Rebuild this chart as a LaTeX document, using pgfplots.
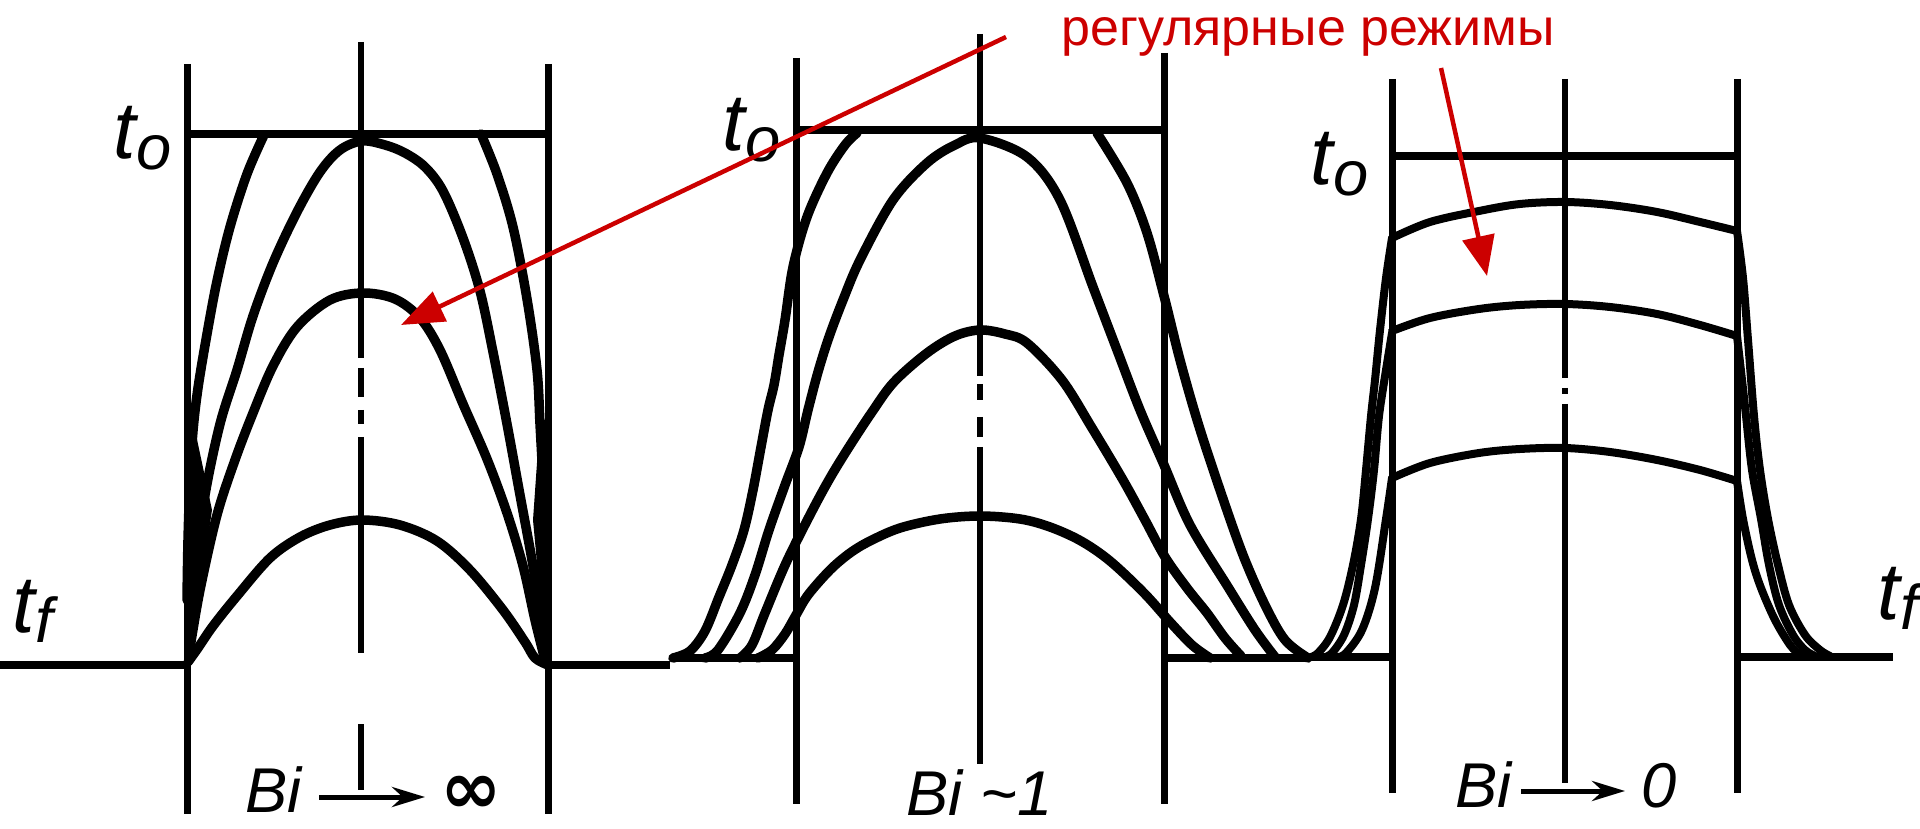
\documentclass[border=0pt]{standalone}
\usepackage{fontspec}
\setmainfont{Liberation Sans}
\newfontfamily\symfont{DejaVu Sans}
\usepackage{pgfplots}
\pgfplotsset{compat=1.18}
\usetikzlibrary{arrows.meta}
\definecolor{arrowred}{RGB}{204,0,0}

% profile and frame styles (1 unit = 0.1 mm)
\tikzset{
  profile/.style={black, line width=0.95mm, line cap=round, line join=round, smooth, tension=0.55},
  thinprofile/.style={black, line width=0.8mm, line cap=round, line join=round, smooth, tension=0.55},
  wall/.style={black, line width=0.7mm},
  level/.style={black, line width=0.75mm},
  axisline/.style={black, line width=0.55mm},
  wedge/.style={fill=black, draw=none},
}
\newcommand{\tlab}[2]{{\fontsize{23}{23}\selectfont\itshape #1}\raisebox{-1.1mm}{\fontsize{18}{18}\selectfont\itshape #2}}
\newcommand{\bilab}{\fontsize{18}{18}\selectfont\itshape}

\begin{document}
\begin{tikzpicture}
\begin{axis}[
  name=main,
  width=192mm, height=82.9mm, scale only axis,
  xmin=0, xmax=1920, ymin=0, ymax=829, y dir=reverse,
  hide axis, clip=false,
]
%% ---------------- Bi -> infinity ----------------
\addplot[wall] coordinates {(187,64) (187,814)};
\addplot[wall] coordinates {(548,64) (548,814)};
\addplot[level] coordinates {(187,134) (548,134)};
\addplot[level] coordinates {(0,665) (187,665)};
\addplot[level] coordinates {(548,665) (670,665)};
\addplot[axisline] coordinates {(361,42) (361,358)};
\addplot[axisline] coordinates {(361,368) (361,397)};
\addplot[axisline] coordinates {(361,410) (361,424)};
\addplot[axisline] coordinates {(361,437) (361,653)};
\addplot[axisline] coordinates {(361,724) (361,790)};
% temperature profiles
\addplot[profile] coordinates {(188,662) (198,648) (213,626) (237,596) (270,558) (300,537) (330,525) (362,520) (400,525) (437,541) (470,570) (503,610) (525,642) (535,658) (548,665)};
\addplot[profile] coordinates {(190,648) (200,590) (217,515) (235,460) (253,413) (273,366) (297,327) (330,300) (363,293) (395,299) (420,318) (440,350) (463,404) (487,459) (507,513) (523,566) (535,620) (545,660)};
\addplot[profile] coordinates {(189,635) (195,570) (205,495) (220,424) (237,370) (253,316) (273,263) (297,212) (320,172) (340,150) (362,141) (385,145) (405,153) (425,167) (443,191) (463,238) (480,291) (493,352) (507,424) (520,495) (533,566) (541,620) (546,655)};
\addplot[profile] coordinates {(264,135) (247,174) (230,227) (217,281) (207,334) (198,388) (193,431) (190,480) (188,540) (187,600)};
\addplot[profile] coordinates {(481,134) (497,174) (513,227) (527,299) (537,370) (540,424) (543,480) (546,540) (547,600)};
\addplot[wedge] coordinates {(184,430) (195,430) (212,510) (191,655) (184,655)} -- cycle;
\addplot[wedge] coordinates {(551,420) (540,420) (533,520) (545,650) (551,650)} -- cycle;
%% ---------------- Bi ~ 1 ----------------
\addplot[wall] coordinates {(796,58) (796,804)};
\addplot[wall] coordinates {(1164,53) (1164,804)};
\addplot[level] coordinates {(796,130) (1164,130)};
\addplot[level] coordinates {(672,658) (796,658)};
\addplot[level] coordinates {(1164,658) (1310,658)};
\addplot[axisline] coordinates {(980,34) (980,376)};
\addplot[axisline] coordinates {(980,384) (980,400)};
\addplot[axisline] coordinates {(980,417) (980,437)};
\addplot[axisline] coordinates {(980,447) (980,764)};
\addplot[profile] coordinates {(758,658) (772,650) (785,634) (796,615) (808,595) (830,570) (850,553) (870,541) (900,528) (940,519) (980,516) (1020,519) (1050,527) (1081,541) (1110,561) (1144,593) (1170,622) (1192,645) (1210,658)};
\addplot[profile] coordinates {(740,658) (752,645) (765,613) (786,563) (811,513) (830,478) (849,447) (872,412) (894,382) (927,353) (955,336) (980,330) (1005,334) (1027,343) (1062,380) (1092,428) (1123,480) (1145,520) (1165,557) (1187,588) (1207,613) (1225,638) (1241,656)};
\addplot[profile] coordinates {(705,658) (718,650) (740,613) (755,575) (769,530) (785,485) (799,447) (808,410) (818,372) (829,337) (843,300) (860,260) (893,200) (927,163) (955,145) (980,138) (1027,157) (1060,200) (1093,287) (1117,350) (1140,410) (1164,465) (1190,525) (1228,587) (1255,630) (1275,657)};
\addplot[profile] coordinates {(673,658) (690,651) (705,631) (719,597) (732,565) (744,530) (753,490) (761,447) (768,410) (774,385) (779,355) (785,320) (793,267) (807,217) (827,173) (845,145) (857,133)};
\addplot[profile] coordinates {(1097,133) (1127,183) (1147,233) (1164,296) (1180,360) (1198,423) (1220,490) (1243,555) (1265,605) (1285,640) (1308,658)};
%% ---------------- Bi -> 0 ----------------
\addplot[wall] coordinates {(1392,79) (1392,793)};
\addplot[wall] coordinates {(1737,79) (1737,793)};
\addplot[level] coordinates {(1392,156) (1737,156)};
\addplot[level] coordinates {(1312,657) (1392,657)};
\addplot[level] coordinates {(1737,657) (1893,657)};
\addplot[axisline] coordinates {(1565,79) (1565,378)};
\addplot[axisline] coordinates {(1565,388) (1565,394)};
\addplot[axisline] coordinates {(1565,404) (1565,783)};
\addplot[thinprofile] coordinates {(1392,238) (1430,222) (1479,211) (1520,204) (1565,202) (1610,205) (1657,212) (1700,222) (1737,231)};
\addplot[thinprofile] coordinates {(1392,331) (1430,318) (1479,309) (1520,305) (1565,304) (1610,307) (1657,314) (1700,325) (1737,336)};
\addplot[thinprofile] coordinates {(1392,478) (1430,463) (1479,453) (1520,449) (1565,448) (1610,452) (1657,460) (1700,470) (1737,481)};
\addplot[thinprofile] coordinates {(1392,238) (1386,278) (1380,330) (1375,380) (1371,416) (1366,470) (1361,519) (1353,565) (1343,605) (1330,637) (1318,653) (1311,657)};
\addplot[thinprofile] coordinates {(1392,333) (1386,370) (1379,416) (1374,470) (1368,519) (1361,565) (1354,605) (1344,635) (1332,653) (1325,657)};
\addplot[thinprofile] coordinates {(1392,478) (1386,519) (1375,588) (1362,630) (1346,653) (1338,657)};
\addplot[thinprofile] coordinates {(1737,231) (1743,278) (1748,340) (1754,416) (1760,470) (1768,519) (1778,565) (1789,605) (1805,635) (1820,650) (1830,656)};
\addplot[thinprofile] coordinates {(1737,336) (1742,380) (1746,416) (1752,470) (1761,519) (1769,565) (1779,605) (1793,635) (1805,650) (1815,656)};
\addplot[thinprofile] coordinates {(1737,481) (1743,519) (1752,560) (1761,588) (1775,620) (1790,645) (1800,655)};
%% ---------------- labels ----------------
\node[anchor=base west, inner sep=0pt] at (113,159) {\tlab{t}{o}};
\node[anchor=base west, inner sep=0pt] at (12,632) {\tlab{t}{f}};
\node[anchor=base west, inner sep=0pt] at (722,151) {\tlab{t}{o}};
\node[anchor=base west, inner sep=0pt] at (1310,185) {\tlab{t}{o}};
\node[anchor=base west, inner sep=0pt] at (1877,619) {\tlab{t}{f}};
\node[anchor=base west, inner sep=0pt] at (245,812) {\bilab Bi};
\draw[black, line width=0.5mm, -{Stealth[length=3.3mm, width=2mm]}] (319,797) -- (425,797);
\node[anchor=center, inner sep=0pt] at (471,795) {\fontsize{21}{21}\selectfont\symfont\bfseries ∞};
\node[anchor=base west, inner sep=0pt] at (906,815) {\bilab Bi \textasciitilde 1};
\node[anchor=base west, inner sep=0pt] at (1455,807) {\bilab Bi};
\draw[black, line width=0.5mm, -{Stealth[length=3.3mm, width=2mm]}] (1521,791) -- (1625,791);
\node[anchor=base west, inner sep=0pt] at (1641,807) {\bilab 0};
%% ---------------- annotation ----------------
\node[anchor=base west, inner sep=0pt, text=arrowred] at (1061,46) {\fontsize{14.8}{15}\selectfont регулярные режимы};
\draw[arrowred, line width=0.45mm, -{Triangle[length=4.3mm, width=3.2mm]}] (1006,37) -- (401,325);
\draw[arrowred, line width=0.45mm, -{Triangle[length=4mm, width=3.2mm]}] (1441,68) -- (1487,276);
\end{axis}
\pgfresetboundingbox
\path (main.south west) rectangle (main.north east);
\end{tikzpicture}
\end{document}
